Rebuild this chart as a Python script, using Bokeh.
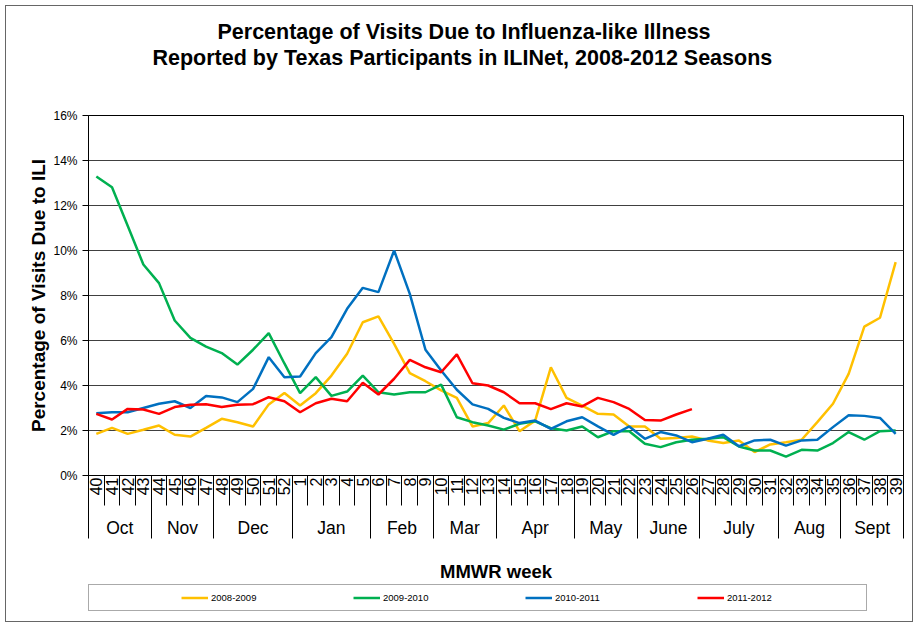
import math
from bokeh.plotting import figure
from bokeh.layouts import column
from bokeh.models import (Range1d, LinearAxis, FixedTicker, PrintfTickFormatter,
                          Legend, LegendItem, Title)
from bokeh.embed import file_html
from bokeh.resources import INLINE

# ---------------- data ----------------
weeks = ["40", "41", "42", "43", "44", "45", "46", "47", "48", "49", "50", "51", "52",
         "1", "2", "3", "4", "5", "6", "7", "8", "9", "10", "11", "12", "13", "14",
         "15", "16", "17", "18", "19", "20", "21", "22", "23", "24", "25", "26", "27",
         "28", "29", "30", "31", "32", "33", "34", "35", "36", "37", "38", "39"]

months = ["Oct", "Nov", "Dec", "Jan", "Feb", "Mar", "Apr", "May", "June", "July", "Aug", "Sept"]
month_weeks = [4, 4, 5, 5, 4, 4, 5, 4, 4, 5, 4, 4]

season_names = ["2008-2009", "2009-2010", "2010-2011", "2011-2012"]

s2008_2009 = [1.85, 2.12, 1.85, 2.03, 2.22, 1.81, 1.73, 2.12, 2.52, 2.37, 2.18, 3.16, 3.67,
              3.11, 3.66, 4.44, 5.41, 6.81, 7.07, 5.85, 4.55, 4.19, 3.78, 3.45, 2.18, 2.33,
              3.11, 1.97, 2.44, 4.81, 3.45, 3.11, 2.74, 2.71, 2.18, 2.18, 1.63, 1.67, 1.73,
              1.56, 1.44, 1.56, 1.04, 1.38, 1.48, 1.59, 2.37, 3.19, 4.52, 6.62, 7.01, 9.48]

s2009_2010 = [13.29, 12.81, 11.10, 9.38, 8.55, 6.89, 6.12, 5.73, 5.44, 4.93, 5.59, 6.33, 4.98,
              3.66, 4.37, 3.54, 3.73, 4.44, 3.70, 3.60, 3.70, 3.70, 4.04, 2.59, 2.37, 2.22,
              2.04, 2.30, 2.41, 2.10, 2.00, 2.18, 1.70, 1.97, 1.97, 1.41, 1.26, 1.48, 1.59,
              1.63, 1.70, 1.29, 1.11, 1.11, 0.84, 1.14, 1.11, 1.44, 1.93, 1.59, 1.97, 2.00]

s2010_2011 = [2.77, 2.81, 2.81, 3.00, 3.19, 3.30, 3.00, 3.53, 3.47, 3.26, 3.85, 5.26, 4.37,
              4.40, 5.44, 6.15, 7.41, 8.34, 8.15, 10.00, 8.07, 5.59, 4.67, 3.81, 3.16, 2.96,
              2.56, 2.33, 2.44, 2.07, 2.41, 2.59, 2.18, 1.81, 2.18, 1.63, 1.93, 1.78, 1.48,
              1.63, 1.81, 1.30, 1.56, 1.59, 1.33, 1.56, 1.59, 2.15, 2.68, 2.65, 2.56, 1.85]

s2011_2012 = [2.74, 2.49, 2.96, 2.93, 2.74, 3.04, 3.14, 3.17, 3.04, 3.14, 3.17, 3.48, 3.30,
              2.81, 3.21, 3.41, 3.30, 4.12, 3.60, 4.30, 5.14, 4.81, 4.59, 5.38, 4.10, 4.00,
              3.70, 3.21, 3.21, 2.95, 3.21, 3.07, 3.45, 3.26, 2.96, 2.47, 2.44, 2.71, 2.95]

y_ticks = [0, 2, 4, 6, 8, 10, 12, 14, 16]

# ---------------- layout / style ----------------
FONT = "Liberation Sans"
W = 918
H_MAIN, H_LEG = 584, 43
BL, BR, BT, BB = 88, 15, 115, 109
colors = ["#FFC000", "#00B050", "#0070C0", "#FF0000"]
series = [s2008_2009, s2009_2010, s2010_2011, s2011_2012]

n = len(weeks)
centers = [i + 0.5 for i in range(n)]
bounds = list(range(n + 1))
month_bounds = [0]
for k in month_weeks:
    month_bounds.append(month_bounds[-1] + k)
month_centers = [(a + b) / 2 for a, b in zip(month_bounds[:-1], month_bounds[1:])]

p = figure(width=W, height=H_MAIN, output_backend="svg", toolbar_location=None,
           x_range=Range1d(0, n), y_range=Range1d(y_ticks[0], y_ticks[-1]),
           x_axis_location=None, title_location=None,
           min_border_left=BL, min_border_right=BR, min_border_top=BT, min_border_bottom=BB,
           background_fill_color="white", border_fill_color=None)
p.xgrid.visible = False
p.outline_line_color = "black"
p.outline_line_width = 1

# y axis
yax = p.yaxis[0]
yax.ticker = FixedTicker(ticks=y_ticks)
yax.formatter = PrintfTickFormatter(format="%d%%")
yax.minor_tick_line_color = None
yax.minor_tick_out = 0
yax.major_tick_in = 0
yax.major_tick_out = 6
yax.major_tick_line_color = "black"
yax.axis_line_color = "black"
yax.major_label_standoff = 5
yax.major_label_text_font = FONT
yax.major_label_text_font_size = "12px"
yax.major_label_text_color = "black"
yax.axis_label = "Percentage of Visits Due to ILI"
yax.axis_label_text_font = FONT
yax.axis_label_text_font_size = "19px"
yax.axis_label_text_font_style = "bold"
yax.axis_label_text_color = "black"
yax.axis_label_standoff = 1

p.ygrid.grid_line_color = "#404040"
p.ygrid.grid_line_width = 1

# x axis: weeks (labels in cells, cell separators as minor ticks)
ax1 = LinearAxis(ticker=FixedTicker(ticks=centers, minor_ticks=bounds),
                 major_label_overrides={c: w for c, w in zip(centers, weeks)},
                 major_label_orientation=math.pi / 2,
                 major_tick_in=0, major_tick_out=0,
                 minor_tick_in=0, minor_tick_out=30,
                 minor_tick_line_color="black", axis_line_color="black",
                 major_label_standoff=-28, major_label_text_font=FONT,
                 major_label_text_font_size="16px", major_label_text_color="black")
p.add_layout(ax1, "below")

# x axis: months
ax2 = LinearAxis(ticker=FixedTicker(ticks=month_centers, minor_ticks=month_bounds),
                 major_label_overrides={c: m for c, m in zip(month_centers, months)},
                 major_tick_in=0, major_tick_out=0,
                 minor_tick_in=22, minor_tick_out=40,
                 minor_tick_line_color="black", axis_line_color=None,
                 major_label_standoff=-21, major_label_text_font=FONT,
                 major_label_text_font_size="17.5px", major_label_text_color="black",
                 axis_label="MMWR week", axis_label_standoff=20,
                 axis_label_text_font=FONT, axis_label_text_font_size="18.5px",
                 axis_label_text_font_style="bold", axis_label_text_color="black")
p.add_layout(ax2, "below")

# lines
for vals, col in zip(series, colors):
    p.line(centers[:len(vals)], vals, line_color=col, line_width=2.5)

# space between titles and plot frame (invisible axis)
spacer = LinearAxis(ticker=FixedTicker(ticks=[centers[0]], minor_ticks=[]),
                    major_label_overrides={centers[0]: ""},
                    major_tick_out=46, major_tick_in=0,
                    minor_tick_out=0, minor_tick_in=0, major_label_standoff=0,
                    major_label_text_font_size="1px",
                    axis_line_color=None, major_tick_line_color=None,
                    minor_tick_line_color=None)
p.add_layout(spacer, "above")

# titles
t2 = Title(text="Reported by Texas Participants in ILINet, 2008-2012 Seasons",
           align="left", offset=64, standoff=0, text_font=FONT,
           text_font_size="21.5px", text_font_style="bold", text_color="black")
t1 = Title(text="Percentage of Visits Due to Influenza-like Illness",
           align="left", offset=129, standoff=0, text_font=FONT,
           text_font_size="21.5px", text_font_style="bold", text_color="black")
p.add_layout(t2, "above")
p.add_layout(t1, "above")

# ---------------- legend strip (same series, view range kept off the data) ----------------
q = figure(width=W, height=H_LEG, output_backend="svg", toolbar_location=None,
           x_axis_location=None, y_axis_location=None,
           x_range=Range1d(0, n), y_range=Range1d(-2, -1), min_border=0,
           background_fill_color=None, border_fill_color=None)
q.outline_line_color = None
q.xgrid.visible = False
q.ygrid.visible = False
items = []
for name, vals, col in zip(season_names, series, colors):
    r = q.line(centers[:len(vals)], vals, line_color=col, line_width=2.5)
    items.append(LegendItem(label=name, renderers=[r]))

legend = Legend(items=items, orientation="horizontal", location=(0, 16.5),
                title=" ", title_location="left", title_standoff=77,
                title_text_font_size="9.5px",
                glyph_width=27, glyph_height=17, label_height=17, label_width=135,
                label_standoff=3, spacing=7, padding=4, margin=0,
                border_line_color="#555555", border_line_width=1.5,
                background_fill_color="white",
                label_text_font=FONT, label_text_font_size="9.5px", label_text_color="black")
q.add_layout(legend)

layout = column(p, q, spacing=0,
                styles={"outline": "1px solid #666666", "outline-offset": "-6px"})

open("out.html", "w").write(file_html(layout, INLINE))
